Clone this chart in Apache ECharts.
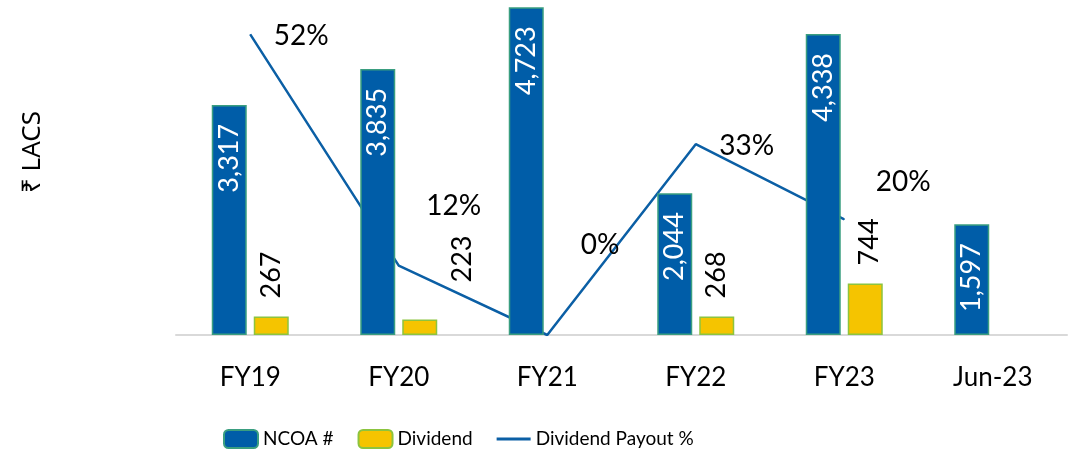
<!DOCTYPE html>
<html>
<head>
<meta charset="utf-8">
<script src="https://cdn.jsdelivr.net/npm/echarts@6/dist/echarts.min.js"></script>
<style>
html,body{margin:0;padding:0;background:#fff;overflow:hidden;}
#chart{width:1076px;height:454px;}
</style>
</head>
<body>
<div id="chart"></div>
<script>
const categories = ['FY19', 'FY20', 'FY21', 'FY22', 'FY23', 'Jun-23'];
const ncoa = [3317, 3835, 4723, 2044, 4338, 1597];
const dividend = [267, 223, null, 268, 744, null];
const payout = [52, 12, 0, 33, 20, null];
const seriesNames = ['NCOA #', 'Dividend', 'Dividend Payout %'];
const axisTitle = '₹ LACS';

const FONT = 'Lato, "Noto Sans", sans-serif';
const BLUE = '#005DA8';
const YELLOW = '#F5C400';
const LINE = '#0B5FA5';

// manual label placements (as in the original)
const payoutLabelOffsets = [[23, 2], [27, -60], [33, -90], [23, 2], [31, -37], [0, 0]];
const dividendLabelOffsets = [[0, 0], [19, 43], [0, 0], [0, 0], [0, 4], [0, 0]];

const fmt = v => Number(v).toLocaleString('en-US');

const chart = echarts.init(document.getElementById('chart'), null, {renderer: 'canvas'});
chart.setOption({
  animation: false,
  backgroundColor: '#fff',
  grid: {left: 176, right: 9, top: 2, bottom: 119, containLabel: false},
  legend: {
    left: 218, top: 424,
    itemWidth: 34, itemHeight: 18, itemGap: 24,
    textStyle: {fontFamily: FONT, fontSize: 19, color: '#000'},
    data: [
      {name: seriesNames[0]},
      {name: seriesNames[1]},
      {name: seriesNames[2], icon: 'path://M0,0 L34,0 L34,3 L0,3 Z'}
    ]
  },
  graphic: [{
    type: 'text', x: 33, y: 152, rotation: Math.PI / 2,
    style: {text: axisTitle, fontFamily: '"Noto Sans", Lato, sans-serif', fontSize: 26, fill: '#000',
      align: 'center', verticalAlign: 'middle'}
  }],
  xAxis: {
    type: 'category', data: categories,
    axisLine: {lineStyle: {color: '#D9D9D9', width: 2}},
    axisTick: {show: false},
    axisLabel: {fontFamily: FONT, fontSize: 26, color: '#000', margin: 30}
  },
  yAxis: [
    {type: 'value', min: 0, max: 4800, show: false, splitLine: {show: false}},
    {type: 'value', min: 0, max: 57.6, show: false, splitLine: {show: false}}
  ],
  series: [
    {
      name: seriesNames[0], type: 'bar', data: ncoa, barWidth: 35, barGap: '20%', z: 3,
      itemStyle: {color: BLUE, borderColor: '#3A9E80', borderWidth: 1.5},
      label: {show: true, position: 'insideTop', distance: 19, rotate: 90, align: 'right', verticalAlign: 'middle',
        color: '#fff', fontFamily: FONT, fontSize: 27, formatter: p => fmt(p.value)}
    },
    {
      name: seriesNames[1], type: 'bar', z: 3, barWidth: 35,
      data: dividend.map((v, i) => ({value: v, label: {offset: dividendLabelOffsets[i]}})),
      itemStyle: {color: YELLOW, borderColor: '#8CC43F', borderWidth: 1.5},
      label: {show: true, position: 'top', distance: 18, rotate: 90, align: 'left', verticalAlign: 'middle',
        color: '#000', fontFamily: FONT, fontSize: 27, formatter: p => fmt(p.value)}
    },
    {
      name: seriesNames[2], type: 'line', yAxisIndex: 1, z: 1,
      data: payout.map((v, i) => ({value: v, label: {offset: payoutLabelOffsets[i]}})),
      symbol: 'circle', symbolSize: 1, showSymbol: true,
      lineStyle: {color: LINE, width: 2.5}, itemStyle: {color: LINE},
      label: {show: true, position: 'right', distance: 0, color: '#000', fontFamily: FONT, fontSize: 28,
        formatter: p => p.value + '%'}
    }
  ]
});
</script>
</body>
</html>
